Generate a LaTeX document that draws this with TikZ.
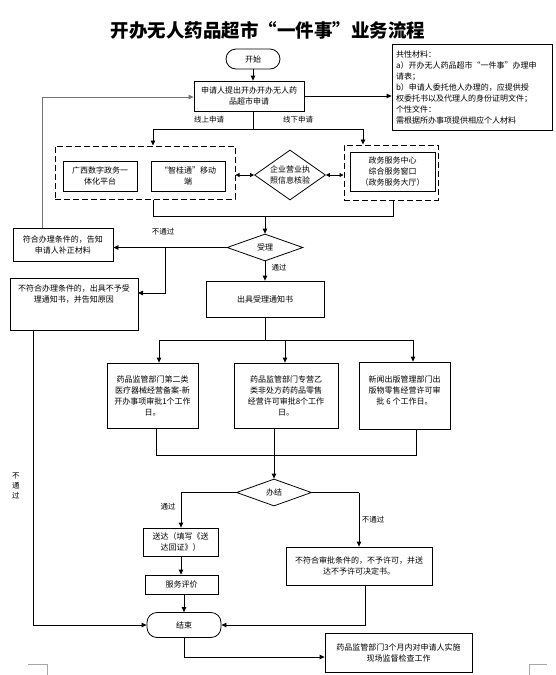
\documentclass[tikz,border=0pt]{standalone}
\usepackage{fontspec}
\newfontfamily\cjk{Noto Sans CJK SC}
\usetikzlibrary{arrows.meta,shapes.geometric}
\tikzset{
  every node/.style={font=\cjk\fontsize{8}{11}\selectfont, inner sep=0pt},
  box/.style={draw, line width=0.8pt, align=center, rectangle},
  term/.style={draw, line width=0.8pt, rounded corners=10pt, align=center},
  dbox/.style={draw, line width=1pt, dash pattern=on 6pt off 3pt},
  dia/.style={draw, line width=0.8pt, diamond, align=center},
  ln/.style={line width=0.8pt},
  arr/.style={line width=0.8pt, -{Triangle[length=5pt,width=4.5pt]}},
  darr/.style={line width=0.8pt, {Triangle[length=4pt,width=4pt]}-{Triangle[length=4pt,width=4pt]}},
  lbl/.style={font=\cjk\fontsize{7.5}{9}\selectfont},
}
\begin{document}
\begin{tikzpicture}[x=1pt,y=-1pt]
\useasboundingbox (0,0) rectangle (556,675);
% title
\node (title) at (268,30) {\cjk\bfseries\fontsize{18.5}{20}\selectfont 开办无人药品超市“一件事”业务流程};
% top
\node[term, minimum width=54pt, minimum height=20pt] (start) at (253,59) {开始};
\node[box, minimum width=110pt, minimum height=30pt] (apply) at (249,96) {申请人提出开办开办无人药\\品超市申请};
\node[box, minimum width=160pt, minimum height=86pt, text width=152pt, align=left, fontsize/.style={}] (mat) at (472,87) {共性材料：\\a）开办无人药品超市“一件事”办理申\\请表；\\b）申请人委托他人办理的，应提供授\\权委托书以及代理人的身份证明文件；\\个性文件：\\需根据所办事项提供相应个人材料};
\node[lbl] (lon) at (209,120) {线上申请};
\node[lbl] (loff) at (298,120) {线下申请};
% dashed groups
\node[dbox, minimum width=180pt, minimum height=53pt] (ldash) at (145,172.5) {};
\node[box, minimum width=74pt, minimum height=30pt] (gx) at (100,176) {广西数字政务一\\体化平台};
\node[box, minimum width=74pt, minimum height=30pt] (zgt) at (188,176) {“智桂通”移动\\端};
\node[dia, minimum width=71pt, minimum height=50pt, aspect=1.42] (verify) at (290,175) {企业营业执\\照信息核验};
\node[dbox, minimum width=94pt, minimum height=55pt] (rdash) at (391,172.5) {};
\node[box, minimum width=85pt, minimum height=39pt] (hall) at (392.5,171.5) {政务服务中心\\综合服务窗口\\（政务服务大厅）};
% accept
\node[dia, minimum width=76pt, minimum height=27pt, aspect=2.8] (accept) at (265,247.5) {受理};
\node[box, minimum width=100pt, minimum height=33pt] (bz) at (63,244.5) {符合办理条件的，告知\\申请人补正材料};
\node[box, minimum width=128pt, minimum height=52pt] (reject) at (74,304) {};
\node[align=center] (rejtxt) at (74,294) {不符合办理条件的，出具不予受\\理通知书，并告知原因};
\node[lbl] (nopass1) at (163,232) {不通过};
\node[lbl] (pass1) at (279,268) {通过};
\node[box, minimum width=118pt, minimum height=36pt] (notice) at (265,299) {出具受理通知书};
% three approvals
\node[box, minimum width=91pt, minimum height=65pt] (A) at (152.5,395.5) {药品监管部门第二类\\医疗器械经营备案-新\\开办事项审批1个工作\\日。};
\node[box, minimum width=104pt, minimum height=65pt] (B) at (286,395.5) {药品监管部门专营乙\\类非处方药药品零售\\经营许可审批8个工作\\日。};
\node[box, minimum width=91pt, minimum height=67pt] (C) at (404.5,395.5) {};
\node[align=center] (Ctxt) at (404.5,390) {新闻出版管理部门出\\版物零售经营许可审\\批 6 个工作日。};
% done
\node[dia, minimum width=75pt, minimum height=27pt, aspect=2.8] (done) at (274,492.5) {办结};
\node[lbl] (pass2) at (168,507) {通过};
\node[lbl] (nopass2) at (373,520) {不通过};
\node[box, minimum width=75pt, minimum height=28pt] (sd) at (180.5,542) {送达（填写《送\\达回证》）};
\node[box, minimum width=73pt, minimum height=19pt] (pj) at (181.5,584.5) {服务评价};
\node[box, minimum width=146pt, minimum height=38pt] (np) at (359,566) {不符合审批条件的，不予许可，并送\\达不予许可决定书。};
\node[term, minimum width=74pt, minimum height=25pt] (end) at (184,625) {结束};
\node[box, minimum width=147pt, minimum height=39pt] (final) at (398.5,652.5) {药品监管部门3个月内对申请人实施\\现场监督检查工作};
\node[lbl, align=center, font=\cjk\fontsize{7.5}{10}\selectfont] (nopass3) at (16,486) {不\\通\\过};
% coordinates
\coordinate (sp) at (253,129);
\coordinate (sl) at (153,129);
\coordinate (sr) at (363,129);
\coordinate (bl) at (153,216);
\coordinate (br) at (393,216);
\coordinate (bm) at (265,216);
\coordinate (jn) at (165,247.5);
\coordinate (rj) at (138,293);
\coordinate (fb) at (42,97);
\coordinate (s2) at (265,340);
\coordinate (aA) at (159,340);
\coordinate (aB) at (285,340);
\coordinate (aC) at (413,340);
\coordinate (eA) at (156,455);
\coordinate (eB) at (274,455);
\coordinate (eC) at (416,455);
\coordinate (dl) at (181,492.5);
\coordinate (dr) at (359,492.5);
\coordinate (lx) at (33,625);
\coordinate (rx) at (365,625);
\coordinate (fx) at (184,657);
% connectors
\draw[arr] (start) -- (start |- apply.north);
\draw[arr] (apply.east) -- (apply.east -| mat.west);
\draw[ln] (sp |- apply.south) -- (sp);
\draw[ln] (sl) -- (sr);
\draw[arr] (sl) -- (sl |- ldash.north);
\draw[arr] (sr) -- (sr |- rdash.north);
\draw[darr] (ldash.east |- verify) -- (verify.west);
\draw[darr] (verify.east) -- (verify.east -| rdash.west);
\draw[ln] (bl |- ldash.south) -- (bl) -- (br) -- (br |- rdash.south);
\draw[arr] (bm) -- (accept.north);
\draw[arr] (accept.west) -- (accept.west -| bz.east);
\draw[arr] (jn) |- (rj);
\draw[arr, draw=black!55, line width=1pt] (fb |- bz.north) -- (fb) -- (fb -| apply.west);
\draw[arr] (accept.south) -- (accept.south |- notice.north);
\draw[ln] (s2 |- notice.south) -- (s2);
\draw[ln] (aA) -- (aC);
\draw[arr] (aA) -- (aA |- A.north);
\draw[arr] (aB) -- (aB |- B.north);
\draw[arr] (aC) -- (aC |- C.north);
\draw[ln] (eA |- A.south) -- (eA) -- (eC) -- (eC |- C.south);
\draw[ln] (eB |- B.south) -- (eB);
\draw[arr] (eB) -- (done.north);
\draw[ln] (done.west) -- (dl);
\draw[arr] (dl) -- (dl |- sd.north);
\draw[ln] (done.east) -- (dr);
\draw[arr] (dr) -- (dr |- np.north);
\draw[arr] (dl |- sd.south) -- (dl |- pj.north);
\draw[arr] (end |- pj.south) -- (end.north);
\draw[arr] (lx |- reject.south) -- (lx) -- (end.west);
\draw[arr] (rx |- np.south) -- (rx) -- (end.east);
\draw[arr] (end.south) -- (fx) -- (fx -| final.west);
% crop marks
\draw[black!35, line width=0.8pt] (28,664) -- (47,664) -- (47,675);
\draw[black!35, line width=0.8pt] (547,664) -- (529,664) -- (529,675);
\end{tikzpicture}
\end{document}
